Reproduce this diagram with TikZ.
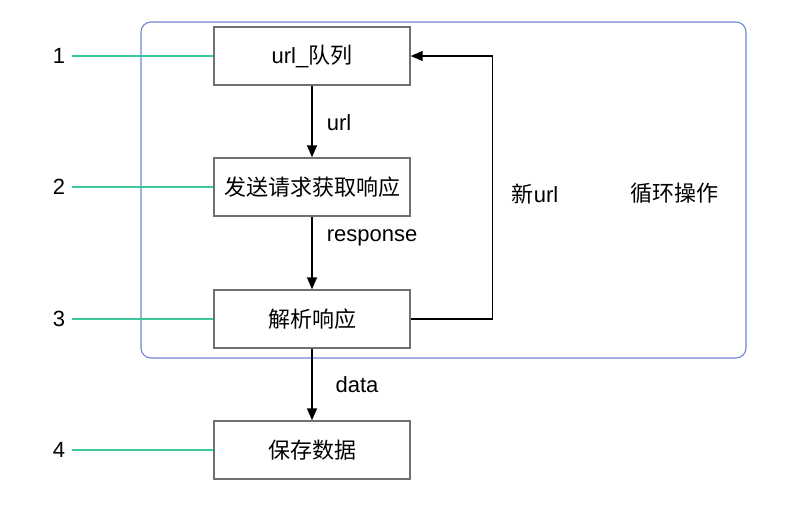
\documentclass[tikz,border=0pt]{standalone}
\usepackage{fontspec}
\setmainfont{Liberation Sans}
\newfontfamily\cjk{Noto Sans CJK SC}
\usetikzlibrary{arrows.meta}
\definecolor{loopblue}{HTML}{6F86D6}
\definecolor{stepgreen}{HTML}{3DC79B}
\definecolor{boxgray}{HTML}{707070}

\begin{document}
\begin{tikzpicture}[x=1pt, y=-1pt,
  stepbox/.style={draw=boxgray, line width=1.4pt, minimum width=196pt, minimum height=58pt, inner sep=0pt, font=\fontsize{22}{25}\selectfont},
  tag/.style={font=\fontsize{22}{25}\selectfont},
  flow/.style={line width=1.5pt, -{Triangle[length=12pt,width=10pt]}},
  lead/.style={stepgreen, line width=1.2pt, shorten <=3pt}]
\useasboundingbox (0,0) rectangle (808,506);

% loop region
\draw[loopblue, line width=1.1pt, rounded corners=10pt] (141,22) rectangle (746,358);

% steps
\node[stepbox] (queue) at (312,56) {url\_{\cjk 队列}};
\node[stepbox] (fetch) at (312,187) {\cjk 发送请求获取响应};
\node[stepbox] (parse) at (312,319) {\cjk 解析响应};
\node[stepbox] (store) at (312,450) {\cjk 保存数据};

% step numbers
\node[tag] (n1) at (59,56) {1};
\node[tag] (n2) at (59,187) {2};
\node[tag] (n3) at (59,319) {3};
\node[tag] (n4) at (59,450) {4};
\draw[lead] (n1.east) -- (queue.west);
\draw[lead] (n2.east) -- (fetch.west);
\draw[lead] (n3.east) -- (parse.west);
\draw[lead] (n4.east) -- (store.west);

% flow
\draw[flow] (queue) -- (fetch);
\draw[flow] (fetch) -- (parse);
\draw[flow] (parse) -- (store);
\draw[flow] (parse.east) -- ++(82,0) |- (queue.east);

% labels
\node[tag] (urllbl) at (339,123) {url};
\node[tag] (resplbl) at (372,238) {response};
\node[tag] (datalbl) at (357,385) {data};
\node[tag] (newlbl) at (535,194) {{\cjk 新}url};
\node[tag] (looplbl) at (674,193) {\cjk 循环操作};
\end{tikzpicture}
\end{document}
